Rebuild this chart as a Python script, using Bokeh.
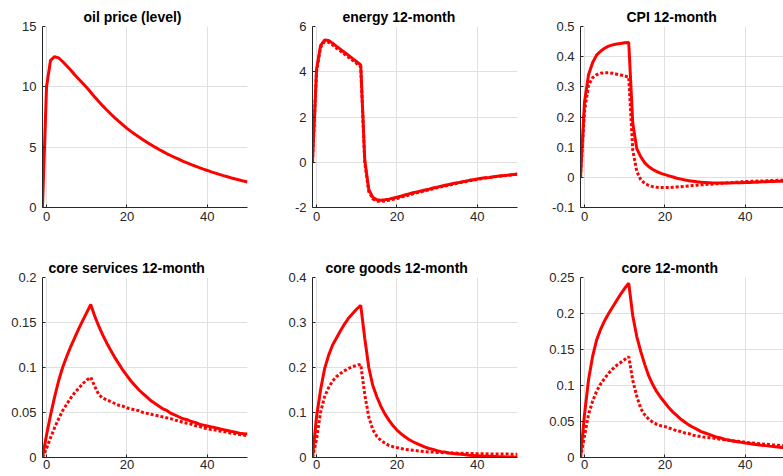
from bokeh.plotting import figure
from bokeh.layouts import row, column
from bokeh.models import FixedTicker, CustomJSTickFormatter, Range1d
from bokeh.embed import file_html
from bokeh.resources import INLINE

# horizon (months)
t = list(range(-1, 51))

titles = ["oil price (level)", "energy 12-month", "CPI 12-month",
          "core services 12-month", "core goods 12-month", "core 12-month"]

oil = [0, 10.0, 12.2, 12.5, 12.4, 12.1, 11.75, 11.4, 11.0, 10.65,
       10.3, 9.95, 9.55, 9.15, 8.78, 8.42, 8.08, 7.75, 7.43, 7.13,
       6.84, 6.56, 6.31, 6.07, 5.84, 5.62, 5.40, 5.20, 5.00, 4.81,
       4.63, 4.45, 4.29, 4.13, 3.98, 3.83, 3.69, 3.56, 3.43, 3.30,
       3.18, 3.07, 2.95, 2.85, 2.74, 2.64, 2.55, 2.45, 2.36, 2.28,
       2.19, 2.11]

energy_s = [0, 4.1, 5.15, 5.4, 5.38, 5.26, 5.12, 4.99, 4.85, 4.72,
            4.58, 4.44, 4.3, 0.1, -1.2, -1.55, -1.66, -1.68, -1.66, -1.63,
            -1.59, -1.55, -1.50, -1.45, -1.40, -1.35, -1.31, -1.27, -1.23, -1.19,
            -1.14, -1.10, -1.06, -1.02, -0.98, -0.94, -0.91, -0.87, -0.84, -0.80,
            -0.77, -0.74, -0.71, -0.69, -0.67, -0.64, -0.62, -0.60, -0.58, -0.56,
            -0.54, -0.52]
energy_d = [0, 4.0, 5.08, 5.33, 5.3, 5.18, 5.04, 4.91, 4.77, 4.64,
            4.5, 4.36, 4.22, 0.0, -1.3, -1.62, -1.72, -1.73, -1.71, -1.68,
            -1.64, -1.60, -1.55, -1.50, -1.45, -1.40, -1.35, -1.31, -1.26, -1.22,
            -1.17, -1.13, -1.09, -1.05, -1.01, -0.97, -0.93, -0.89, -0.86, -0.82,
            -0.79, -0.76, -0.73, -0.70, -0.68, -0.65, -0.63, -0.61, -0.59, -0.57,
            -0.55, -0.53]

cpi_s = [0, 0.25, 0.34, 0.38, 0.405, 0.418, 0.428, 0.435, 0.439, 0.442,
         0.444, 0.446, 0.447, 0.18, 0.095, 0.068, 0.048, 0.035, 0.026, 0.019,
         0.013, 0.009, 0.005, 0.001, -0.003, -0.006, -0.009, -0.011, -0.013, -0.015,
         -0.016, -0.017, -0.018, -0.019, -0.019, -0.019, -0.019, -0.019, -0.018, -0.018,
         -0.018, -0.017, -0.017, -0.016, -0.016, -0.015, -0.015, -0.014, -0.014, -0.013,
         -0.013, -0.012]
cpi_d = [0, 0.22, 0.305, 0.33, 0.34, 0.345, 0.347, 0.347, 0.345, 0.342,
         0.339, 0.336, 0.332, 0.09, 0.02, -0.008, -0.02, -0.027, -0.031, -0.033,
         -0.034, -0.034, -0.034, -0.033, -0.032, -0.031, -0.030, -0.029, -0.027, -0.026,
         -0.025, -0.024, -0.023, -0.022, -0.021, -0.020, -0.019, -0.018, -0.017, -0.016,
         -0.015, -0.014, -0.0135, -0.013, -0.0125, -0.012, -0.0115, -0.011, -0.0105, -0.010,
         -0.0095, -0.009]

services_s = [0, 0.025, 0.047, 0.067, 0.085, 0.1, 0.112, 0.123, 0.133, 0.143,
              0.152, 0.161, 0.17, 0.157, 0.146, 0.136, 0.127, 0.119, 0.111, 0.104,
              0.097, 0.091, 0.085, 0.08, 0.075, 0.071, 0.067, 0.063, 0.06, 0.057,
              0.054, 0.052, 0.049, 0.047, 0.045, 0.043, 0.042, 0.04, 0.039, 0.037,
              0.036, 0.035, 0.034, 0.033, 0.032, 0.031, 0.030, 0.029, 0.028, 0.027,
              0.0265, 0.026]
services_d = [0, 0.01, 0.022, 0.033, 0.043, 0.052, 0.059, 0.066, 0.072, 0.077,
              0.082, 0.086, 0.089, 0.079, 0.07, 0.066, 0.064, 0.062, 0.06, 0.058,
              0.057, 0.055, 0.054, 0.053, 0.052, 0.05, 0.049, 0.048, 0.047, 0.046,
              0.045, 0.044, 0.043, 0.0415, 0.0405, 0.039, 0.038, 0.037, 0.0355, 0.0345,
              0.033, 0.032, 0.031, 0.0305, 0.0295, 0.029, 0.028, 0.027, 0.0265, 0.0255,
              0.025, 0.024]

goods_s = [0, 0.09, 0.15, 0.197, 0.227, 0.25, 0.266, 0.282, 0.297, 0.31,
           0.32, 0.33, 0.338, 0.265, 0.2, 0.16, 0.135, 0.114, 0.097, 0.083,
           0.071, 0.061, 0.053, 0.046, 0.04, 0.035, 0.031, 0.027, 0.023, 0.02,
           0.018, 0.015, 0.013, 0.012, 0.01, 0.009, 0.008, 0.007, 0.006, 0.005,
           0.0045, 0.004, 0.0035, 0.003, 0.0027, 0.0024, 0.002, 0.0017, 0.0014, 0.0012,
           0.001, 0.0008]
goods_d = [0, 0.04, 0.1, 0.135, 0.155, 0.17, 0.18, 0.187, 0.193, 0.198,
           0.202, 0.205, 0.207, 0.14, 0.09, 0.062, 0.047, 0.038, 0.032, 0.027,
           0.024, 0.022, 0.02, 0.018, 0.017, 0.016, 0.015, 0.014, 0.013, 0.012,
           0.012, 0.011, 0.011, 0.0105, 0.0102, 0.01, 0.0097, 0.0094, 0.0092, 0.009,
           0.0088, 0.0086, 0.0084, 0.0082, 0.008, 0.0079, 0.0078, 0.0077, 0.0076, 0.0075,
           0.0075, 0.0074]

core_s = [0, 0.06, 0.108, 0.14, 0.163, 0.178, 0.19, 0.2, 0.209, 0.218,
          0.227, 0.235, 0.242, 0.197, 0.168, 0.147, 0.129, 0.113, 0.101, 0.091,
          0.083, 0.076, 0.069, 0.063, 0.058, 0.053, 0.049, 0.045, 0.042, 0.039,
          0.036, 0.034, 0.032, 0.030, 0.028, 0.027, 0.025, 0.024, 0.023, 0.022,
          0.021, 0.020, 0.0193, 0.0185, 0.0178, 0.0171, 0.0165, 0.0158, 0.0152, 0.0146,
          0.014, 0.0135]
core_d = [0, 0.03, 0.06, 0.078, 0.092, 0.102, 0.11, 0.117, 0.123, 0.128,
          0.132, 0.136, 0.14, 0.107, 0.085, 0.068, 0.059, 0.053, 0.049, 0.046,
          0.044, 0.043, 0.041, 0.039, 0.037, 0.036, 0.034, 0.033, 0.031, 0.030,
          0.029, 0.028, 0.0275, 0.027, 0.026, 0.025, 0.0245, 0.024, 0.023, 0.0225,
          0.022, 0.021, 0.0205, 0.020, 0.0195, 0.019, 0.0185, 0.018, 0.0175, 0.017,
          0.0165, 0.016]

x_ticks = [0, 20, 40]
y_ticks = [[0, 5, 10, 15], [-2, 0, 2, 4, 6], [-0.1, 0, 0.1, 0.2, 0.3, 0.4, 0.5],
           [0, 0.05, 0.1, 0.15, 0.2], [0, 0.1, 0.2, 0.3, 0.4], [0, 0.05, 0.1, 0.15, 0.2, 0.25]]

solid = [oil, energy_s, cpi_s, services_s, goods_s, core_s]
dotted = [None, energy_d, cpi_d, services_d, goods_d, core_d]

FONT = "Liberation Sans"
RED = "#ff0000"
AX = "#262626"

fmt_code = "return (Math.round(tick*10000)/10000).toString();"

# layout (pixels): left border, frame width, right border
cols = [(42, 205, 13), (52, 205, 3), (60, 203, 0)]
title_off = [41, 30, 46, 6, 13, 41]
rows_geom = [(26, 181, 30), (40, 180, 19)]
x_end = [50, 50, 49.5]

figs = []
for i in range(6):
    r, c = divmod(i, 3)
    ml, fw, mr = cols[c]
    mt, fh, mb = rows_geom[r]
    yt = y_ticks[i]
    p = figure(frame_width=fw, frame_height=fh,
               min_border_left=ml, min_border_right=mr,
               min_border_top=mt, min_border_bottom=mb,
               x_range=Range1d(-1, x_end[c]), y_range=Range1d(yt[0], yt[-1]),
               output_backend="svg", toolbar_location=None, title=titles[i])
    p.outline_line_color = None
    p.background_fill_color = "white"
    p.border_fill_color = "white"
    p.title.align = "left"
    p.title.offset = title_off[i]
    p.title.text_font = FONT
    p.title.text_font_size = "14px"
    p.title.text_font_style = "bold"
    p.title.text_color = "#000000"
    p.title.standoff = 4
    for ax, tk in ((p.xaxis, x_ticks), (p.yaxis, yt)):
        ax.ticker = FixedTicker(ticks=tk)
        ax.formatter = CustomJSTickFormatter(code=fmt_code)
        ax.axis_line_color = AX
        ax.major_tick_line_color = AX
        ax.major_tick_in = 3
        ax.major_tick_out = 0
        ax.minor_tick_line_color = None
        ax.major_label_text_font = FONT
        ax.major_label_text_font_size = "13px"
        ax.major_label_text_color = AX
    p.yaxis.major_label_standoff = 6
    p.xaxis.major_label_standoff = 4 if r == 0 else 2
    p.xgrid.ticker = FixedTicker(ticks=x_ticks)
    p.ygrid.ticker = FixedTicker(ticks=yt)
    p.grid.grid_line_color = "#e0e0e0"
    p.grid.grid_line_width = 1
    p.line(t, solid[i], line_color=RED, line_width=3)
    if dotted[i] is not None:
        p.line(t, dotted[i], line_color=RED, line_width=3, line_dash="3 2")
    figs.append(p)

layout = column(row(*figs[:3]), row(*figs[3:]))
open("out.html", "w").write(file_html(layout, INLINE))
